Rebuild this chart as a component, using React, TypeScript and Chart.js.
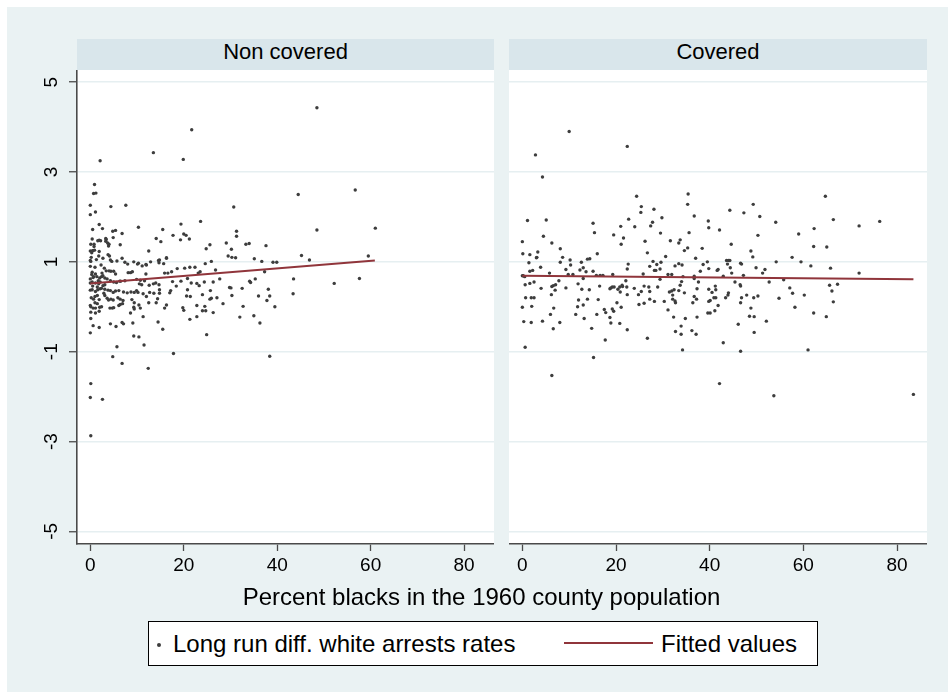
import React, { useEffect, useRef } from "react";
import { Chart, registerables } from "chart.js";

Chart.register(...registerables);

// ---------------- data ----------------
const panelTitles = ["Non covered", "Covered"];
const xAxisTitle = "Percent blacks in the 1960 county population";
const legendLabels = ["Long run diff. white arrests rates", "Fitted values"];
const xTickValues = [0, 20, 40, 60, 80];
const yTickValues = [-5, -3, -1, 1, 3, 5];
const xRange = [-2.85, 86.4];
const yRange = [-5.28, 5.27];

const nonCoveredX = [
  48.5, 21.7, 13.5, 2.1, 19.9, 0.9, 0.7, 1.2, 44.5, 56.7,
  0, 0, 1.1, 4.4, 7.6, 30.7, 10.3, 19.4, 23.6, 48.5,
  61.0, 0.5, 1.9, 2.6, 4.8, 5.4, 6.8, 15.5, 14.1, 15.1,
  17.7, 19.3, 20.0, 20.5, 21.2, 31.3, 31.3, 29.1, 30.2, 33.3,
  34.0, 37.6, 29.5, 30.3, 31.1, 35.1, 36.7, 39.1, 39.9, 45.2,
  46.9, 59.5, 25.6, 24.8, 24.6, 25.9, 26.8, 27.7, 23.5, 23.1,
  22.4, 21.3, 20.2, 18.6, 17.4, 16.6, 15.9, 16.3, 15.7, 14.8,
  14.7, 12.5, 12.0, 11.1, 10.1, 9.3, 7.4, 6.8, 5.7, 4.6,
  4.3, 4.1, 3.8, 3.9, 4.0, 3.7, 3.4, 3.3, 1.9, 2.2,
  6.4, 4.9, 0.8, 0, 0.3, 0.6, 0.9, 1.9, 1.8, 2.7,
  0, 0.1, 0, 1.0, 0.4, 0.3, 0.7, 1.1, 0, 0.6,
  1.4, 0, 0.4, 1.1, 1.7, 2.0, 2.4, 2.7, 3.1, 2.5,
  3.4, 4.0, 4.4, 5.0, 5.4, 3.6, 4.3, 5.0, 5.6, 6.3,
  0, 0.4, 1.1, 1.6, 2.1, 2.4, 3.1, 3.8, 4.3, 4.9,
  5.4, 6.1, 7.1, 7.9, 8.7, 9.4, 9.9, 10.7, 11.6, 11.9,
  12.6, 13.5, 14.0, 14.7, 10.5, 11.0, 8.1, 8.6, 9.0, 7.4,
  6.5, 9.9, 10.2, 11.3, 12.0, 12.7, 13.6, 14.8, 14.8, 14.4,
  14.1, 17.0, 17.2, 17.6, 18.4, 19.4, 20.8, 21.6, 20.8, 20.6,
  21.4, 22.8, 23.3, 24.4, 26.3, 24.0, 25.7, 25.6, 25.9, 27.1,
  22.8, 24.5, 24.7, 24.0, 26.3, 19.8, 20.0, 21.3, 22.8, 28.4,
  29.8, 30.1, 30.3, 32.5, 34.1, 34.3, 35.3, 37.3, 36.0, 37.8,
  38.1, 38.4, 32.7, 32.0, 35.0, 36.3, 39.5, 43.5, 43.4, 52.2,
  57.6, 24.9, 38.4, 17.8, 15.5, 14.5, 16.3, 15.9, 11.3, 12.5,
  10.7, 10.4, 9.4, 8.9, 9.4, 9.3, 8.6, 9.1, 9.3, 10.4,
  11.5, 12.4, 6.8, 4.8, 5.7, 6.8, 7.1, 5.5, 4.3, 4.2,
  4.7, 5.0, 3.9, 4.9, 4.4, 5.9, 6.4, 7.0, 6.1, 6.4,
  6.9, 3.1, 3.6, 1.9, 1.0, 1.5, 2.0, 2.4, 0, 0.1,
  0.6, 1.1, 1.9, 1.1, 0.1, 0.1, 0.6, 1.9, 0, 0.2,
  0.7, 1.0, 1.5, 2.7, 3.1, 1.8, 2.1, 0.1, 0, 2.6,
  0.1, 0.4, 1.6, 3.3, 0.8, 0.5, 16.3, 14.6, 8.0, 10.3,
  11.9, 12.9, 0.1, 0.2, 1.3, 2.3, 3.0, 0.5, 1.5, 2.9,
];
const nonCoveredY = [
  4.43, 3.94, 3.43, 3.25, 3.28, 2.72, 2.52, 2.53, 2.50, 2.60,
  2.26, 2.05, 2.11, 2.23, 2.26, 2.22, 1.77, 1.84, 1.90, 1.71,
  1.75, 1.72, 1.83, 1.74, 1.68, 1.70, 1.63, 1.72, 1.52, 1.45,
  1.59, 1.49, 1.62, 1.59, 1.51, 1.68, 1.57, 1.42, 1.28, 1.39,
  1.41, 1.36, 1.13, 1.10, 1.09, 1.07, 1.01, 0.99, 0.99, 1.14,
  1.04, 1.13, 1.38, 1.29, 0.96, 1.01, 0.82, 0.62, 0.78, 0.75,
  0.88, 0.88, 0.86, 0.85, 0.78, 0.75, 0.75, 1.08, 0.96, 1.04,
  0.98, 1.24, 0.93, 0.91, 0.95, 1.00, 0.99, 1.08, 1.02, 1.01,
  1.04, 1.13, 1.16, 1.35, 1.39, 1.42, 1.50, 1.46, 1.48, 1.47,
  1.38, 1.54, 1.39, 1.24, 1.20, 1.25, 1.26, 1.23, 1.13, 1.08,
  1.03, 1.01, 0.90, 0.88, 0.77, 0.72, 0.67, 0.73, 0.62, 0.65,
  0.67, 0.53, 0.55, 0.53, 0.58, 0.64, 0.67, 0.69, 0.64, 0.75,
  0.80, 0.80, 0.79, 0.79, 0.73, 0.62, 0.58, 0.55, 0.54, 0.57,
  0.37, 0.38, 0.34, 0.38, 0.40, 0.41, 0.39, 0.37, 0.36, 0.32,
  0.35, 0.36, 0.33, 0.31, 0.33, 0.32, 0.61, 0.59, 0.58, 0.73,
  0.48, 0.51, 0.53, 0.49, 0.51, 0.49, 0.76, 0.76, 0.78, 0.58,
  0.57, 0.36, 0.32, 0.29, 0.23, 0.32, 0.30, 0.30, 0.38, 0.18,
  0.09, 0.31, 0.36, 0.56, 0.46, 0.57, 0.63, 0.53, 0.38, 0.24,
  0.23, 0.52, 0.47, 0.55, 0.55, 0.27, 0.36, 0.17, 0.19, 0.20,
  0.03, 0.01, -0.09, -0.09, -0.13, -0.02, -0.08, -0.28, -0.22, 0.07,
  0.43, 0.42, 0.25, 0.41, 0.57, 0.54, 0.62, 0.78, 0.24, 0.14,
  0.39, 0.24, 0.01, -0.23, -0.20, -0.36, 0.00, 0.62, 0.29, 0.52,
  0.63, -0.62, -1.10, -1.04, -0.50, -0.34, 0.04, -0.03, -0.22, 0.09,
  -0.03, 0.04, -0.05, 0.16, 0.09, -0.01, -0.14, -0.36, -0.65, -0.67,
  -0.85, -1.37, -1.26, -1.11, -0.89, -0.35, -0.38, -0.44, -0.38, -0.03,
  -0.03, -0.02, 0.15, 0.15, 0.17, 0.20, 0.17, 0.14, 0.03, 0.05,
  0.07, 0.25, 0.19, 0.16, 0.09, 0.07, -0.01, 0.00, 0.03, 0.00,
  -0.03, -0.03, -0.10, -0.14, -0.12, -0.26, -0.42, -0.46, -0.58, 0.20,
  0.17, 0.23, 0.25, 0.47, 0.49, 0.51, 0.55, -1.71, -2.02, -2.06,
  -2.87, 1.51, 1.47, 1.52, 1.34, 1.25, 1.09, 1.03, 0.95, 0.97,
  0.94, 1.00, 1.39, 1.10, 1.05, 0.93, 0.86, 0.46, 0.44, 0.30,
];

const coveredX = [
  10.0, 2.8, 22.4, 4.3, 35.4, 24.4, 64.7, 6.3, 15.2, 0.6,
  42.1, 34.2, 46.6, 61.0, 42.9, 17.7, 26.7, 53.7, 83.5, 25.4,
  25.3, 28.1, 27.8, 27.4, 29.8, 29.5, 24.0, 22.7, 21.0, 19.5,
  21.6, 21.1, 15.1, 15.4, 13.9, 16.0, 1.1, 5.1, 4.5, 0,
  0.1, 1.6, 3.3, 3.1, 3.9, 6.3, 8.1, 1.4, 1.6, 2.2,
  0, 0.2, 0.5, 0.6, 1.6, 2.5, 4.0, 0.7, 1.9, 2.5,
  0, 2.0, 0.3, 1.9, 4.3, 5.8, 6.6, 7.1, 6.3, 7.0,
  6.2, 6.7, 6.0, 6.6, 8.0, 7.8, 8.6, 8.1, 9.3, 10.2,
  10.3, 9.8, 10.8, 9.3, 11.9, 12.7, 13.0, 12.3, 12.6, 13.0,
  13.6, 12.0, 11.8, 13.0, 11.4, 13.2, 13.9, 14.3, 14.4, 15.1,
  15.8, 16.6, 17.2, 16.5, 16.2, 15.9, 14.8, 17.5, 17.8, 18.7,
  18.9, 18.9, 19.2, 19.6, 18.7, 19.3, 19.2, 19.5, 20.2, 21.1,
  20.4, 20.9, 20.8, 21.4, 21.3, 20.8, 22.1, 22.4, 22.6, 22.4,
  22.3, 22.4, 23.9, 24.8, 25.4, 26.0, 24.9, 26.0, 25.8, 26.2,
  26.7, 27.2, 27.9, 28.2, 28.5, 28.7, 27.0, 27.2, 27.2, 28.2,
  28.9, 29.4, 29.6, 29.4, 30.6, 31.6, 32.6, 31.9, 31.1, 32.4,
  32.1, 31.9, 31.4, 31.1, 32.1, 32.6, 32.7, 30.3, 32.3, 32.7,
  33.4, 33.7, 34.6, 33.4, 34.1, 34.3, 33.7, 34.0, 33.4, 34.6,
  33.9, 33.9, 34.8, 35.3, 35.6, 35.3, 36.7, 37.0, 36.7, 36.7,
  37.6, 37.3, 37.2, 36.7, 36.4, 36.2, 37.1, 37.3, 38.4, 38.0,
  38.6, 39.5, 39.8, 39.7, 39.8, 42.1, 41.6, 41.8, 39.8, 40.5,
  41.2, 41.3, 40.9, 41.3, 40.1, 39.8, 39.6, 40.1, 41.1, 41.8,
  42.9, 44.3, 44.6, 43.6, 44.0, 44.3, 43.8, 44.4, 44.7, 45.4,
  44.0, 43.9, 43.4, 46.1, 46.6, 46.8, 47.2, 46.5, 46.6, 46.8,
  46.6, 47.3, 47.9, 48.8, 49.2, 49.9, 50.3, 50.7, 49.3, 51.3,
  51.8, 50.3, 49.4, 48.8, 48.5, 49.5, 49.5, 52.7, 52.1, 54.1,
  54.2, 54.8, 55.8, 57.1, 57.7, 57.6, 58.2, 59.0, 59.5, 60.2,
  61.6, 62.2, 62.3, 62.2, 65.0, 64.9, 65.8, 66.4, 65.6, 66.1,
  66.4, 67.3, 71.9, 71.9, 76.3, 3.0,
];
const coveredY = [
  3.90, 3.38, 3.57, 2.89, 2.51, 2.46, 2.46, -1.53, -1.13, -0.90,
  -1.71, -0.96, -0.99, -0.96, -0.80, -0.74, -0.70, -1.98, -1.95, 2.23,
  2.10, 2.17, 1.88, 1.80, 1.98, 1.64, 1.78, 1.95, 1.79, 1.60,
  1.53, 1.39, 1.86, 1.65, 1.06, 1.18, 1.92, 1.93, 1.57, 1.45,
  1.18, 1.16, 1.22, 1.10, 0.88, 1.42, 1.29, 0.98, 0.79, 0.81,
  0.69, 0.69, 0.67, 0.49, 0.52, 0.55, 0.41, 0.20, 0.20, 0.20,
  -0.01, 0.01, -0.33, -0.35, -0.32, 0.75, 0.47, 0.49, 0.45, 0.37,
  0.27, -0.03, -0.17, -0.49, -0.35, 0.58, 1.10, 0.99, 0.83, 1.04,
  0.93, 0.72, 0.72, 0.42, 0.51, 0.39, 0.63, 0.82, 0.99, 0.87,
  0.78, 0.15, 0.00, 0.04, -0.17, -0.26, 0.17, 0.38, 1.07, 0.79,
  0.70, 0.70, 0.70, 0.46, 0.16, -0.17, -0.48, -0.06, -0.13, -0.24,
  -0.36, 0.42, 0.44, 0.44, 0.40, 0.72, -0.05, -0.10, 0.09, -0.01,
  0.39, 0.33, 0.44, 0.45, 0.48, -0.37, 0.58, 0.84, 0.95, 0.27,
  0.44, -0.51, 0.41, 0.27, 0.34, 0.46, 0.05, 0.08, 0.73, 1.46,
  1.20, 0.90, 1.01, 0.81, 0.81, 0.94, 0.44, 0.34, 0.17, 0.12,
  0.44, 0.84, 0.99, 0.61, 1.12, 1.47, 0.91, 0.72, 0.72, 0.38,
  0.26, 0.35, 0.33, -0.07, 0.17, 0.13, 0.09, 0.12, -0.23, -0.55,
  1.42, 1.49, 1.25, 0.96, 0.93, 0.67, 0.48, 0.56, 0.36, 0.31,
  -0.43, -0.61, -0.26, 1.31, 1.65, 2.28, 2.02, 1.08, 0.68, 0.63,
  0.55, 0.40, 0.17, 0.23, 0.09, -0.53, -0.61, -0.23, 1.30, 0.79,
  0.94, 1.00, 0.85, 1.91, 1.76, 1.71, 0.81, 0.83, 0.39, 0.32,
  0.46, 0.38, 0.20, 0.20, 0.14, 0.12, -0.14, -0.14, -0.09, 0.03,
  0.68, 2.15, 1.39, 1.03, 1.03, 1.03, 0.95, 0.87, 0.75, 0.55,
  0.31, 0.26, 0.20, -0.39, 0.97, 0.95, 0.70, 0.49, 0.46, 0.20,
  0.09, 2.09, 0.26, 1.24, 1.11, 0.87, 1.59, 2.01, 2.28, 0.75,
  0.83, 0.24, 0.20, -0.03, -0.21, -0.22, -0.57, 0.55, -0.32, 1.88,
  1.00, 0.19, 0.60, 0.42, 0.30, 1.10, -0.01, 1.62, 1.00, 0.26,
  0.91, 1.34, 1.74, -0.14, 1.33, -0.22, 0.86, 1.94, 0.48, 0.35,
  0.11, 0.50, 1.80, 0.75, 1.90, 1.09,
];

// fitted values (end points of each fitted line)
const nonCoveredFitX = [0, 60.9];
const nonCoveredFitY = [0.52, 1.03];
const coveredFitX = [0, 83.5];
const coveredFitY = [0.69, 0.61];

// ---------------- style ----------------
const FONT = "'Liberation Sans', Arial, Helvetica, sans-serif";
const BG = "#EAF2F3";
const STRIP = "#D9E6EB";
const GRID = "#E6EFF1";
const AXIS = "#4a4a4a";
const MARKER = "#3d3d3d";
const FIT = "#90353B";

const whiteArea = {
  id: "whiteArea",
  beforeDraw(chart: any) {
    const { ctx, chartArea: a } = chart;
    ctx.save();
    ctx.fillStyle = "#ffffff";
    ctx.fillRect(a.left, a.top, a.right - a.left, a.bottom - a.top);
    ctx.restore();
  },
};

type PanelProps = {
  xs: number[];
  ys: number[];
  fitX: number[];
  fitY: number[];
  showY: boolean;
  left: number;
  top: number;
  width: number;
  height: number;
  yAxisWidth: number;
  xAxisHeight: number;
};

function Panel(p: PanelProps) {
  const ref = useRef<HTMLCanvasElement | null>(null);
  useEffect(() => {
    const canvas = ref.current;
    if (!canvas) return;
    const chart = new Chart(canvas, {
      type: "scatter",
      data: {
        datasets: [
          {
            type: "line",
            label: legendLabels[1],
            data: p.fitX.map((x, i) => ({ x, y: p.fitY[i] })),
            borderColor: FIT,
            borderWidth: 2,
            pointRadius: 0,
            fill: false,
            order: 0,
          } as any,
          {
            type: "scatter",
            label: legendLabels[0],
            data: p.xs.map((x, i) => ({ x, y: p.ys[i] })),
            backgroundColor: MARKER,
            borderWidth: 0,
            pointRadius: 1.7,
            order: 1,
          } as any,
        ],
      },
      options: {
        animation: false,
        responsive: false,
        maintainAspectRatio: false,
        events: [],
        layout: { padding: 0, autoPadding: false },
        plugins: {
          legend: { display: false },
          tooltip: { enabled: false },
          title: { display: false },
        },
        scales: {
          x: {
            type: "linear",
            min: xRange[0],
            max: xRange[1],
            afterBuildTicks: (s: any) => {
              s.ticks = xTickValues.map((v) => ({ value: v }));
            },
            afterFit: (s: any) => {
              s.height = p.xAxisHeight;
              s.paddingLeft = 0;
              s.paddingRight = 0;
            },
            grid: {
              drawOnChartArea: false,
              drawTicks: true,
              tickLength: 7,
              tickColor: AXIS,
              tickWidth: 1.3,
            },
            border: { display: true, color: AXIS, width: 1.6 },
            ticks: {
              autoSkip: false,
              maxRotation: 0,
              minRotation: 0,
              padding: 3,
              color: "#000",
              font: { family: FONT, size: 19 },
              callback: (v: any) => String(v),
            },
          },
          y: {
            type: "linear",
            min: yRange[0],
            max: yRange[1],
            afterBuildTicks: (s: any) => {
              s.ticks = yTickValues.map((v) => ({ value: v }));
            },
            afterFit: (s: any) => {
              s.width = p.yAxisWidth;
              s.paddingTop = 0;
              s.paddingBottom = 0;
            },
            grid: {
              color: GRID,
              lineWidth: 1.5,
              drawTicks: p.showY,
              tickLength: 8,
              tickColor: AXIS,
              tickWidth: 1.3,
            },
            border: { display: p.showY, color: AXIS, width: 1.6 },
            ticks: {
              display: p.showY,
              autoSkip: false,
              minRotation: 90,
              maxRotation: 90,
              crossAlign: "center",
              padding: 9,
              color: "#000",
              font: { family: FONT, size: 19 },
              callback: (v: any) => String(v),
            },
          },
        },
      } as any,
      plugins: [whiteArea],
    });
    return () => chart.destroy();
  }, []);
  return (
    <canvas
      ref={ref}
      width={p.width}
      height={p.height}
      style={{
        position: "absolute",
        left: p.left,
        top: p.top,
        width: p.width,
        height: p.height,
      }}
    />
  );
}

const stripStyle = (left: number, width: number): React.CSSProperties => ({
  position: "absolute",
  left,
  top: 39,
  width,
  height: 31,
  boxSizing: "border-box",
  paddingBottom: 6,
  background: STRIP,
  display: "flex",
  alignItems: "center",
  justifyContent: "center",
  fontFamily: FONT,
  fontSize: 22,
  color: "#000",
});

const textStyle: React.CSSProperties = {
  position: "absolute",
  whiteSpace: "nowrap",
  fontFamily: FONT,
  fontSize: 24,
  lineHeight: "24px",
  color: "#000",
};

export default function App() {
  return (
    <div
      style={{
        position: "fixed",
        left: 0,
        top: 0,
        width: 948,
        height: 692,
        overflow: "hidden",
        background: "#fff",
      }}
    >
      <div
        style={{
          position: "absolute",
          left: 7,
          top: 7,
          width: 941,
          height: 685,
          background: BG,
        }}
      />
      <div style={stripStyle(77, 417)}>{panelTitles[0]}</div>
      <div style={stripStyle(509, 418)}>{panelTitles[1]}</div>
      <Panel
        xs={nonCoveredX}
        ys={nonCoveredY}
        fitX={nonCoveredFitX}
        fitY={nonCoveredFitY}
        showY={true}
        left={20}
        top={70}
        width={474}
        height={514}
        yAxisWidth={57}
        xAxisHeight={40}
      />
      <Panel
        xs={coveredX}
        ys={coveredY}
        fitX={coveredFitX}
        fitY={coveredFitY}
        showY={false}
        left={509}
        top={70}
        width={418}
        height={514}
        yAxisWidth={0}
        xAxisHeight={40}
      />
      <div
        style={{
          ...textStyle,
          left: 481.5,
          top: 585,
          transform: "translateX(-50%)",
        }}
      >
        {xAxisTitle}
      </div>
      <div
        style={{
          position: "absolute",
          left: 148,
          top: 621,
          width: 670,
          height: 45,
          boxSizing: "border-box",
          border: "1px solid #000",
          background: "#fff",
        }}
      >
        <div
          style={{
            position: "absolute",
            left: 8,
            top: 21,
            width: 4,
            height: 4,
            borderRadius: 2,
            background: MARKER,
          }}
        />
        <div style={{ ...textStyle, left: 24, top: 10 }}>{legendLabels[0]}</div>
        <div
          style={{
            position: "absolute",
            left: 415,
            top: 20,
            width: 89,
            height: 2,
            background: FIT,
          }}
        />
        <div style={{ ...textStyle, left: 512, top: 10 }}>{legendLabels[1]}</div>
      </div>
    </div>
  );
}
